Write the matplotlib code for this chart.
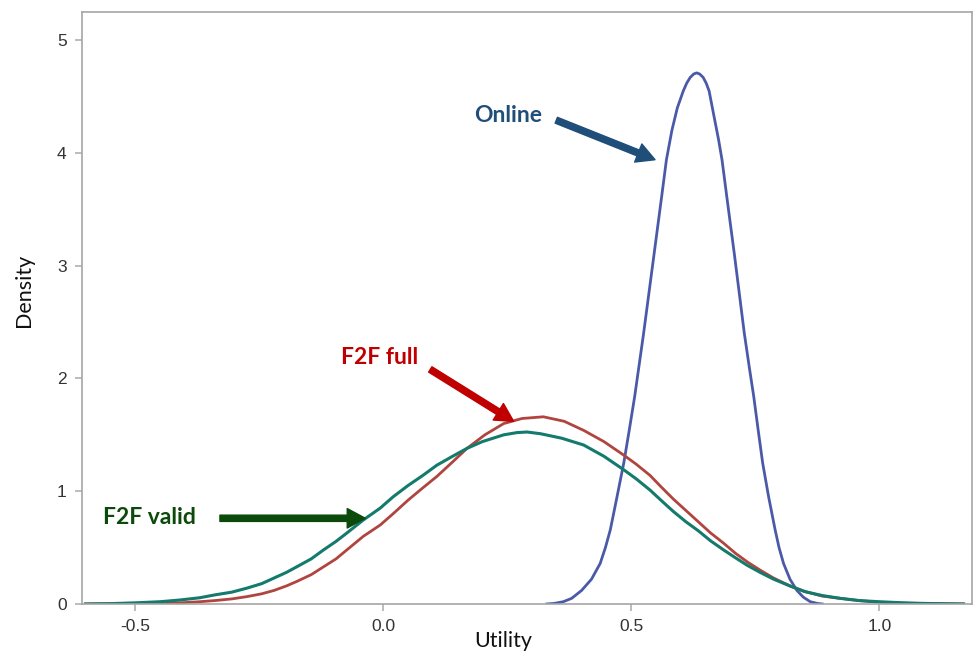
import matplotlib
matplotlib.use("Agg")
import matplotlib.pyplot as plt

# density curves
valid_x = [-0.60, -0.55, -0.50, -0.45, -0.41, -0.37, -0.34, -0.305, -0.275, -0.245, -0.22,
           -0.195, -0.174, -0.145, -0.12, -0.095, -0.073, -0.04, -0.006, 0.02, 0.05, 0.08,
           0.108, 0.14, 0.169, 0.20, 0.243, 0.27, 0.29, 0.317, 0.36, 0.404, 0.445, 0.485,
           0.51, 0.538, 0.56, 0.585, 0.61, 0.635, 0.66, 0.686, 0.71, 0.735, 0.76, 0.787,
           0.82, 0.85, 0.885, 0.921, 0.96, 1.00, 1.05, 1.09, 1.17]
valid_y = [0.0, 0.003, 0.01, 0.02, 0.035, 0.055, 0.08, 0.105, 0.14, 0.18, 0.23,
           0.28, 0.33, 0.40, 0.48, 0.555, 0.63, 0.745, 0.85, 0.95, 1.05, 1.14,
           1.23, 1.31, 1.38, 1.44, 1.50, 1.52, 1.525, 1.51, 1.47, 1.41, 1.31, 1.19,
           1.11, 1.01, 0.92, 0.82, 0.73, 0.65, 0.56, 0.48, 0.41, 0.34, 0.28, 0.22,
           0.16, 0.11, 0.075, 0.05, 0.03, 0.02, 0.01, 0.005, 0.0]

full_x = [-0.60, -0.50, -0.45, -0.41, -0.37, -0.34, -0.305, -0.275, -0.245, -0.22,
          -0.195, -0.174, -0.145, -0.12, -0.095, -0.073, -0.04, -0.006, 0.02, 0.05, 0.08,
          0.108, 0.14, 0.169, 0.205, 0.243, 0.28, 0.323, 0.365, 0.404, 0.445, 0.485,
          0.51, 0.538, 0.56, 0.585, 0.61, 0.635, 0.66, 0.686, 0.71, 0.735, 0.76, 0.787,
          0.82, 0.85, 0.885, 0.921, 0.96, 1.00, 1.05, 1.09, 1.17]
full_y = [0.0, 0.003, 0.006, 0.01, 0.02, 0.03, 0.045, 0.065, 0.09, 0.12,
          0.16, 0.2, 0.26, 0.33, 0.40, 0.48, 0.60, 0.70, 0.80, 0.92, 1.03,
          1.13, 1.26, 1.38, 1.50, 1.60, 1.645, 1.66, 1.62, 1.54, 1.44, 1.32,
          1.24, 1.14, 1.04, 0.93, 0.83, 0.73, 0.63, 0.54, 0.45, 0.37, 0.30, 0.23,
          0.16, 0.11, 0.07, 0.05, 0.03, 0.015, 0.007, 0.004, 0.0]

online_x = [0.33, 0.345, 0.363, 0.38, 0.40, 0.42, 0.4375, 0.448, 0.458, 0.47, 0.485,
            0.496, 0.507, 0.516, 0.525, 0.534, 0.543, 0.552, 0.561, 0.571, 0.582, 0.593,
            0.605, 0.612, 0.619, 0.626, 0.632, 0.638, 0.645, 0.651, 0.657, 0.668, 0.676,
            0.683, 0.696, 0.708, 0.718, 0.728, 0.738, 0.747, 0.756, 0.765, 0.777, 0.79,
            0.798, 0.807, 0.82, 0.834, 0.847, 0.861, 0.875, 0.885]
online_y = [0.0, 0.005, 0.02, 0.05, 0.12, 0.22, 0.36, 0.50, 0.66, 0.92, 1.25,
            1.54, 1.84, 2.12, 2.4, 2.7, 3.0, 3.3, 3.6, 3.94, 4.2, 4.4,
            4.55, 4.62, 4.67, 4.70, 4.71, 4.70, 4.67, 4.62, 4.55, 4.3, 4.12,
            3.94, 3.5, 3.1, 2.75, 2.4, 2.1, 1.84, 1.54, 1.25, 0.95, 0.66,
            0.5, 0.36, 0.22, 0.12, 0.06, 0.02, 0.005, 0.0]

x_ticks = [-0.5, 0.0, 0.5, 1.0]
y_ticks = [0, 1, 2, 3, 4, 5]

fig = plt.figure(figsize=(9.73, 6.55), dpi=100)
ax = fig.add_axes([0.0843, 0.0779, 0.9147, 0.9038])

ax.plot(online_x, online_y, color="#4b5aa8", lw=2.0, solid_joinstyle="round")
ax.plot(full_x, full_y, color="#b0443f", lw=2.0, solid_joinstyle="round")
ax.plot(valid_x, valid_y, color="#137a6c", lw=2.2, solid_joinstyle="round")

ax.set_xlim(-0.607, 1.187)
ax.set_ylim(0, 5.25)
ax.set_xticks(x_ticks)
ax.set_xticklabels([f"{t:.1f}" for t in x_ticks])
ax.set_yticks(y_ticks)

for s in ax.spines.values():
    s.set_color("#a6a6a6")
    s.set_linewidth(1.2)
ax.tick_params(axis="both", direction="out", length=5, width=1.2, color="#b0b0b0",
               labelsize=12.5, labelcolor="#333333", pad=6)
for lab in ax.get_xticklabels() + ax.get_yticklabels():
    lab.set_family("Liberation Sans")

ax.set_xlabel("Utility", family="Lato", fontsize=15.5, color="#111111")
ax.xaxis.set_label_coords(0.473, -0.045)
ax.set_ylabel("Density", family="Lato", fontsize=15.5, color="#111111")
ax.yaxis.set_label_coords(-0.054, 0.53)

# annotations
def note(text, xy_text, tail, tip, color):
    ax.text(xy_text[0], xy_text[1], text, color=color, family="Lato", weight="bold",
            fontsize=16.5, ha="center", va="center")
    ax.annotate("", xy=tip, xytext=tail,
                arrowprops=dict(facecolor=color, edgecolor=color, width=4.5,
                                headwidth=14, headlength=13, shrink=0))

note("Online", (0.252, 4.33), (0.349, 4.29), (0.548, 3.94), "#1f4e79")
note("F2F full", (-0.008, 2.19), (0.095, 2.08), (0.263, 1.62), "#c00000")
note("F2F valid", (-0.472, 0.77), (-0.329, 0.76), (-0.036, 0.76), "#0b4a0b")

plt.savefig("out.png", dpi=100)
plt.close()
